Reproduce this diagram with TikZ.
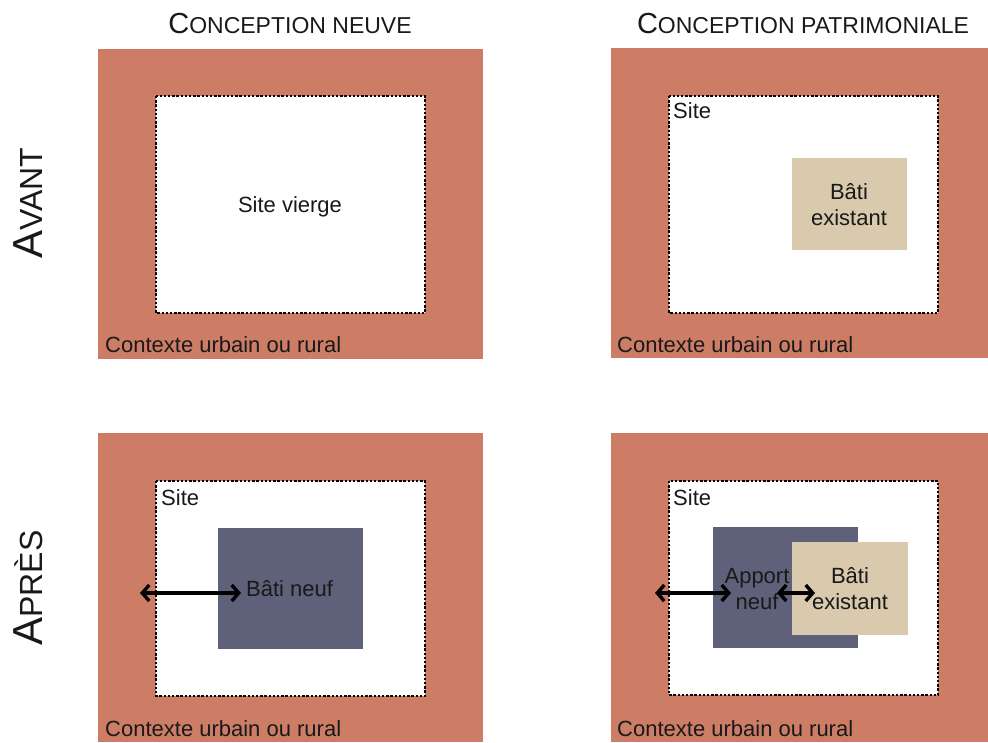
\documentclass[tikz,border=0pt]{standalone}
\usepackage{fontspec}
\setmainfont{Liberation Sans}
\usetikzlibrary{arrows.meta}
\definecolor{terra}{HTML}{CD7D65}
\definecolor{slate}{HTML}{5F6079}
\definecolor{beige}{HTML}{D9C9AD}
\tikzset{
  ctx/.style={fill=terra, draw=none},
  sitebox/.style={fill=white, draw=black, line width=2.8pt, dash pattern=on 2.4pt off 1.8pt},
  newbox/.style={fill=slate, draw=none},
  oldbox/.style={fill=beige, draw=none},
  lbl/.style={font=\fontsize{22}{26}\selectfont, inner sep=0pt, text=black!90},
  ttl/.style={inner sep=0pt, text=black!90},
  dbl/.style={{Straight Barb[length=7pt,width=16pt]}-{Straight Barb[length=7pt,width=16pt]}, line width=3.4pt, black}
}
\newcommand{\bigsc}[2]{{\fontsize{29}{30}\selectfont #1}{\fontsize{23}{26}\selectfont #2}}
\newcommand{\vsc}[2]{{\fontsize{42}{44}\selectfont #1}{\fontsize{32}{34}\selectfont #2}}
\begin{document}
\begin{tikzpicture}[x=1pt,y=-1pt]
\useasboundingbox (0,0) rectangle (988,742);
% titles
\node[ttl, anchor=base] (t1) at (290,33) {\bigsc{C}{ONCEPTION NEUVE}};
\node[ttl, anchor=base] (t2) at (803,33) {\bigsc{C}{ONCEPTION PATRIMONIALE}};
\node[ttl, anchor=base, rotate=90] (avant) at (42,203) {\vsc{A}{VANT}};
\node[ttl, anchor=base, rotate=90] (apres) at (42,588) {\vsc{A}{PRÈS}};
% panel 1
\path[ctx] (98,49) rectangle (483,359);
\path[sitebox] (156,96) rectangle (425,313);
\node[lbl] (sv) at (290,207) {Site vierge};
\node[lbl, anchor=base west] (c1) at (105,352) {Contexte urbain ou rural};
% panel 2
\path[ctx] (611,48) rectangle (988,358);
\path[sitebox] (669,96) rectangle (938,313);
\node[lbl, anchor=base west] (s2) at (673,118) {Site};
\node[oldbox, minimum width=115pt, minimum height=92pt, inner sep=0pt] (b2) at (849.5,204) {};
\node[lbl, align=center] (b2t) at (849,205) {Bâti\\existant};
\node[lbl, anchor=base west] (c2) at (617,352) {Contexte urbain ou rural};
% panel 3
\path[ctx] (98,433) rectangle (483,742);
\path[sitebox] (156,481) rectangle (425,696);
\node[lbl, anchor=base west] (s3) at (161,505) {Site};
\node[newbox, minimum width=145pt, minimum height=121pt, inner sep=0pt] (n3) at (290.5,588.5) {};
\node[lbl, anchor=west] (n3t) at (246,589) {Bâti neuf};
\coordinate (a3l) at (140,593);
\coordinate (a3r) at (241,593);
\draw[dbl] (a3l) -- (a3r);
\node[lbl, anchor=base west] (c3) at (105,736) {Contexte urbain ou rural};
% panel 4
\path[ctx] (611,433) rectangle (988,742);
\path[sitebox] (669,481) rectangle (938,695);
\node[lbl, anchor=base west] (s4) at (673,505) {Site};
\node[newbox, minimum width=145pt, minimum height=121pt, inner sep=0pt] (n4) at (785.5,587.5) {};
\node[oldbox, minimum width=116pt, minimum height=93pt, inner sep=0pt] (b4) at (850,588.5) {};
\node[lbl, align=center] (n4t) at (757,589) {Apport\\neuf};
\node[lbl, align=center] (b4t) at (850,589) {Bâti\\existant};
\coordinate (a4l) at (655,593);
\coordinate (a4r) at (731,593);
\coordinate (a5l) at (777,593);
\coordinate (a5r) at (815,593);
\draw[dbl] (a4l) -- (a4r);
\draw[dbl] (a5l) -- (a5r);
\node[lbl, anchor=base west] (c4) at (617,736) {Contexte urbain ou rural};
\end{tikzpicture}
\end{document}
